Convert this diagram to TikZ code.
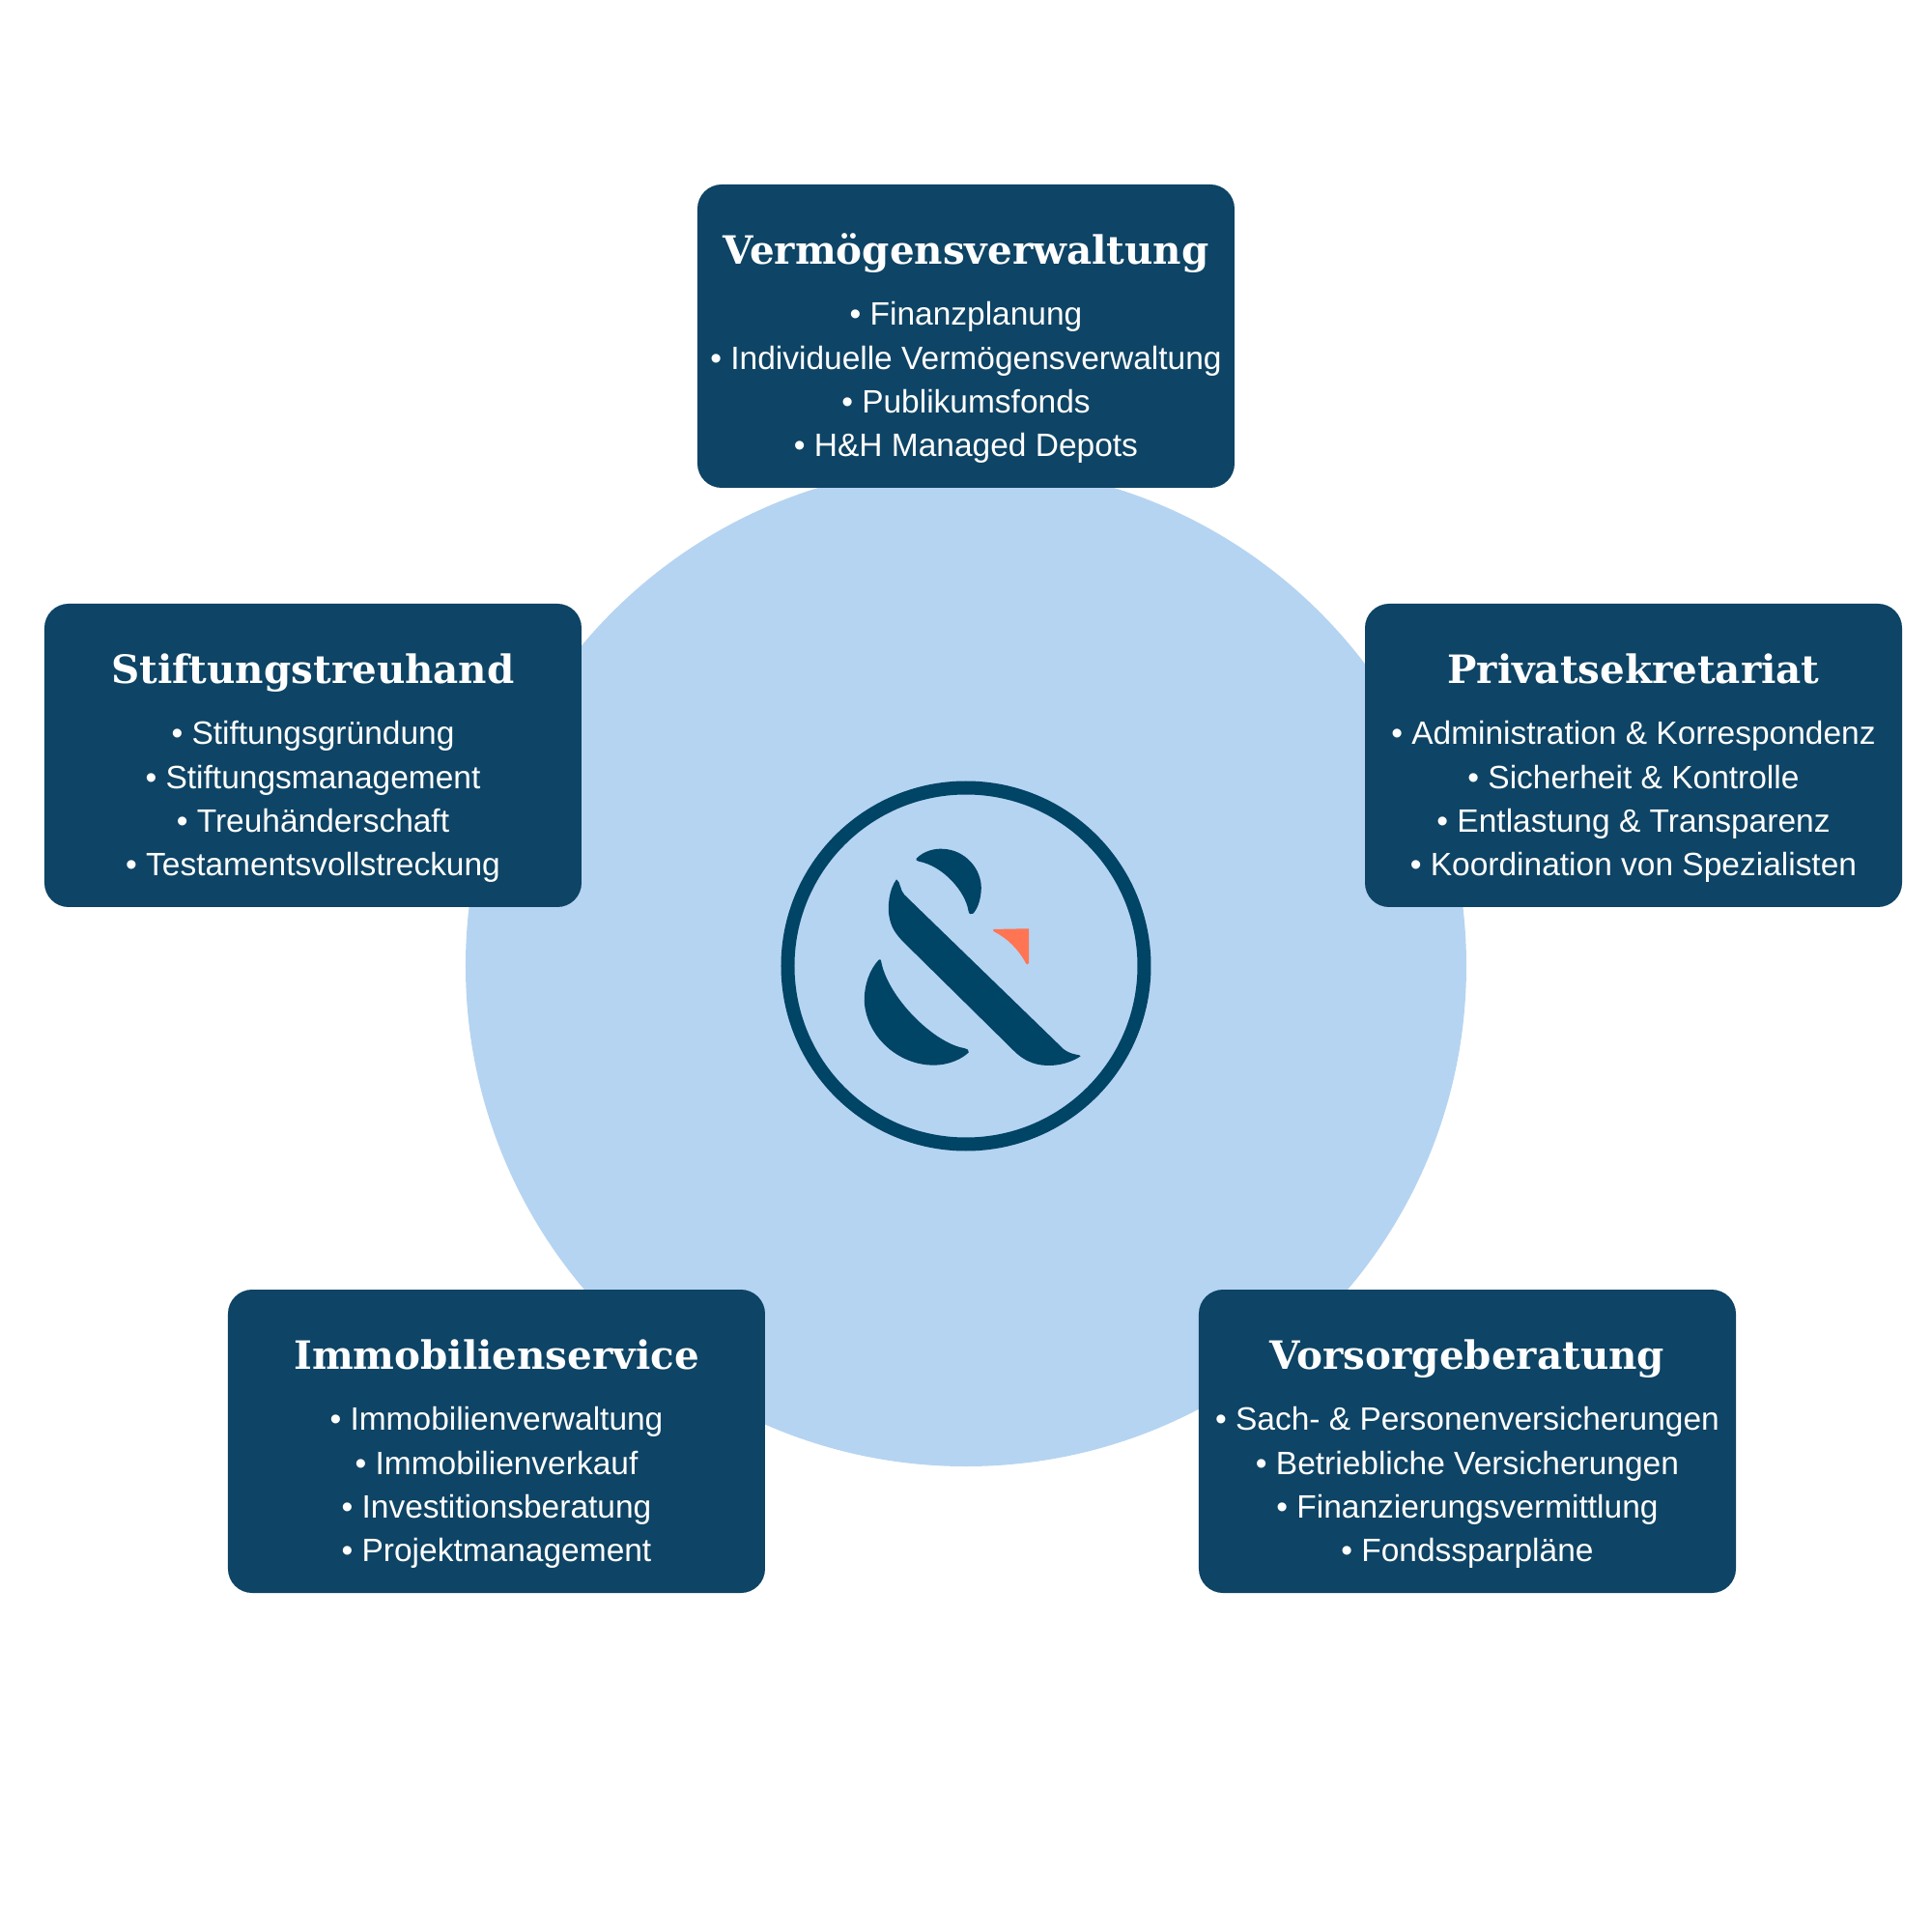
\documentclass[tikz,border=0pt]{standalone}
\usepackage{fontspec}
\setmainfont{Liberation Sans}
\newfontfamily\titlefont{DejaVu Serif}[BoldFont={DejaVu Serif Bold}]
\usetikzlibrary{positioning}
\definecolor{boxblue}{HTML}{0E4465}
\definecolor{hubblue}{HTML}{B5D4F1}
\definecolor{logoblue}{HTML}{004466}
\definecolor{logored}{HTML}{FF7554}
\newcommand{\boxtext}[5]{\rule{0pt}{16.4pt}{\titlefont\fontsize{11.5}{13}\bfseries #1}\\[5pt]
  \textbullet{} #2\\ \textbullet{} #3\\ \textbullet{} #4\\ \textbullet{} #5}

\begin{document}
\begin{tikzpicture}[hub/.style={circle,fill=hubblue,minimum size=10.36cm,inner sep=0pt,outer sep=0pt},
  ring/.style={circle,draw=logoblue,line width=.14cm,minimum size=3.69cm,inner sep=0pt,outer sep=0pt},
  service/.style={rectangle,rounded corners=.25cm,fill=boxblue,text=white,align=center,
    minimum width=5.56cm,minimum height=3.14cm,inner sep=0pt,outer sep=0pt,
    font=\fontsize{9.53}{12.9}\selectfont}]
            \useasboundingbox (-10,-10) rectangle (10,10);
            \node[hub] (center) at (0,0) {};
            \node[ring] (ring) at (0,0) {};

            % the ampersand, in a 1320 wide frame
            \begin{scope}[shift={(-2.2,2.2)},x=.003333cm,y=-.003333cm]
                \fill[logoblue] (507,327) .. controls (530,303) and (565,295) .. (590,297) .. controls (660,300) and (710,360) .. (709,420) .. controls (708,450) and (700,480) .. (684,498) .. controls (678,503) and (670,500) .. (669,490) .. controls (660,430) and (590,350) .. (515,336) .. controls (507,335) and (505,330) .. (507,327) -- cycle;
                \fill[logoblue] (445,392) .. controls (420,425) and (418,480) .. (422,505) .. controls (428,540) and (440,560) .. (470,590) -- (810,925) .. controls (850,965) and (890,972) .. (925,971) .. controls (965,970) and (1000,955) .. (1018,942) .. controls (1022,937) and (990,940) .. (965,920) -- (470,440) .. controls (455,425) and (458,398) .. (445,392) -- cycle;
                \fill[logoblue] (390,642) .. controls (360,675) and (345,720) .. (345,770) .. controls (350,880) and (450,970) .. (560,970) .. controls (610,970) and (650,950) .. (670,930) .. controls (672,922) and (665,920) .. (655,917) .. controls (560,900) and (420,760) .. (398,650) .. controls (397,640) and (393,640) .. (390,642) -- cycle;
                \fill[logored] (747,547) -- (857,545) -- (857,652) .. controls (855,658) and (850,658) .. (848,653) .. controls (825,610) and (790,575) .. (750,555) .. controls (745,552) and (745,549) .. (747,547) -- cycle;
            \end{scope}

            \node[service] (verm) [above=3.105cm of ring] {\boxtext{Vermögensverwaltung}{Finanzplanung}{Individuelle Vermögensverwaltung}{Publikumsfonds}{H\&H Managed Depots}};
            \node[service] (priv) [below right=1.2cm and 1.35cm of verm] {\boxtext{Privatsekretariat}{Administration \& Korrespondenz}{Sicherheit \& Kontrolle}{Entlastung \& Transparenz}{Koordination von Spezialisten}};
            \node[service] (stift) [below left=1.2cm and 1.2cm of verm] {\boxtext{Stiftungstreuhand}{Stiftungsgründung}{Stiftungsmanagement}{Treuhänderschaft}{Testamentsvollstreckung}};
            \node[service] (immo) [below=3.96cm of stift,xshift=1.9cm] {\boxtext{Immobilienservice}{Immobilienverwaltung}{Immobilienverkauf}{Investitionsberatung}{Projektmanagement}};
            \node[service] (vors) [below=3.96cm of priv,xshift=-1.72cm] {\boxtext{Vorsorgeberatung}{Sach- \& Personenversicherungen}{Betriebliche Versicherungen}{Finanzierungsvermittlung}{Fondssparpläne}};
        \end{tikzpicture}
\end{document}
